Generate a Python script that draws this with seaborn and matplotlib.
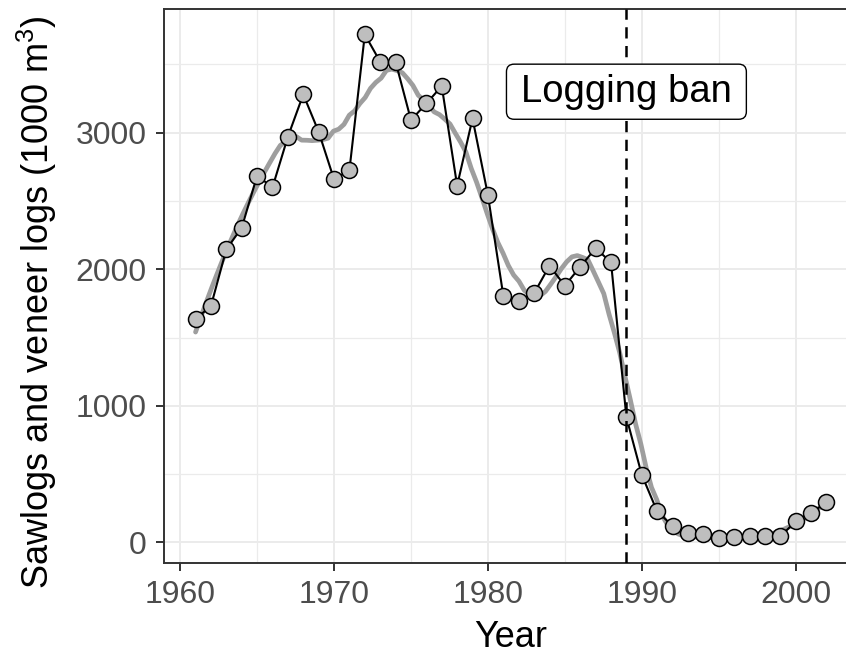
import numpy as np
import pandas as pd
import matplotlib
matplotlib.use("Agg")
import matplotlib.pyplot as plt
from matplotlib.patches import BoxStyle
import seaborn as sns

# Annual sawlog and veneer log production (1000 m^3)
years = list(range(1961, 2003))
production = [1636, 1731, 2146, 2304, 2685, 2600, 2970, 3280, 3007, 2658,
              2726, 3719, 3519, 3519, 3092, 3214, 3341, 2612, 3104, 2543,
              1807, 1768, 1824, 2026, 1880, 2019, 2154, 2051, 917, 495,
              227, 122, 69, 61, 32, 39, 44, 44, 44, 154,
              215, 295]
ban_year = 1989
ban_label = "Logging ban"
ban_label_y = 3300
x_ticks = [1960, 1970, 1980, 1990, 2000]
y_ticks = [0, 1000, 2000, 3000]

df = pd.DataFrame({"Year": years, "Production": production})


def loess(x, y, x_new, span=0.3, degree=2):
    """Local polynomial regression with tricube weights."""
    x = np.asarray(x, float)
    y = np.asarray(y, float)
    q = int(np.floor(len(x) * span))
    out = []
    for x0 in x_new:
        d = np.abs(x - x0)
        h = np.sort(d)[q - 1]
        w = np.clip(1 - (d / h) ** 3, 0, None) ** 3
        coef = np.polyfit(x - x0, y, degree, w=np.sqrt(w))
        out.append(coef[-1])
    return np.array(out)


def label_box(x0, y0, width, height, mutation_size):
    """Rounded label box, padded more horizontally than vertically."""
    hp = 0.38 * mutation_size
    vp = 0.25 * mutation_size
    return BoxStyle.Round(pad=0, rounding_size=0.2)(
        x0 - hp, y0 - vp, width + 2 * hp, height + 2 * vp, mutation_size)


grid_x = np.linspace(min(years), max(years), 120)
smooth = pd.DataFrame({"Year": grid_x,
                       "Production": loess(years, production, grid_x, span=0.3)})

sns.set_theme(style="whitegrid")
plt.rcParams["font.family"] = ["Liberation Sans", "DejaVu Sans"]
plt.rcParams["mathtext.default"] = "regular"

fig = plt.figure(figsize=(8.46, 6.57), dpi=100)
ax = fig.add_axes([164 / 846, 1 - 563.3 / 657, 694 / 846, (563.3 - 9.3) / 657])

ax.set_xlim(1958.95, 2004.05)
yr = max(production) - min(production)
ax.set_ylim(min(production) - 0.05 * yr, max(production) + 0.05 * yr)

ax.set_xticks(x_ticks)
ax.set_yticks(y_ticks)
ax.set_xticks([1965, 1975, 1985, 1995], minor=True)
ax.set_yticks([500, 1500, 2500, 3500], minor=True)
ax.grid(True, which="major", color="#EBEBEB", linewidth=1.4)
ax.grid(True, which="minor", color="#EBEBEB", linewidth=0.9)
ax.set_axisbelow(True)

sns.lineplot(data=smooth, x="Year", y="Production", ax=ax,
             color="#9E9E9E", linewidth=3.4, zorder=2)
sns.lineplot(data=df, x="Year", y="Production", ax=ax,
             color="black", linewidth=1.5, marker="o", markersize=11.5,
             markerfacecolor="#BEBEBE", markeredgecolor="black",
             markeredgewidth=1.1, zorder=3)

ax.axvline(ban_year, color="black", linewidth=1.8, dashes=(4.5, 3), zorder=4)
ax.text(ban_year, ban_label_y, ban_label, ha="center", va="center",
        fontsize=27.5, color="black", zorder=5,
        bbox=dict(boxstyle=label_box, facecolor="white",
                  edgecolor="black", linewidth=1.0))

for side in ["top", "left", "bottom"]:
    ax.spines[side].set_visible(True)
    ax.spines[side].set_color("#333333")
    ax.spines[side].set_linewidth(1.4)
ax.spines["right"].set_visible(False)

ax.tick_params(axis="both", which="major", length=5.5, width=1.4,
               color="#333333", labelsize=23, labelcolor="#4D4D4D",
               bottom=True, left=True)
ax.tick_params(axis="x", which="major", pad=6.5)
ax.tick_params(axis="y", which="major", pad=7)
ax.tick_params(axis="both", which="minor", length=0)

ax.set_xlabel("Year", fontsize=26, color="black", labelpad=7)
ax.set_ylabel("Sawlogs and veneer logs (1000 m$^3$)", fontsize=26,
              color="black")
ax.yaxis.set_label_coords((59 - 164) / 694, (563.3 - 302) / 554)

fig.savefig("out.png", dpi=100)
